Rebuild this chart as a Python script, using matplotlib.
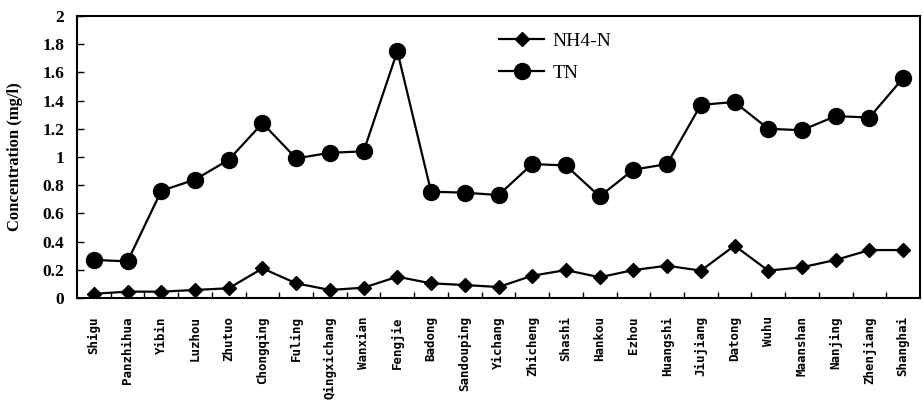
import matplotlib
matplotlib.use("Agg")
import matplotlib.pyplot as plt
import numpy as np

sites = ["Shigu", "Panzhihua", "Yibin", "Luzhou", "Zhutuo", "Chongqing", "Fuling",
         "Qingxichang", "Wanxian", "Fengjie", "Badong", "Sandouping", "Yichang",
         "Zhicheng", "Shashi", "Hankou", "Ezhou", "Huangshi", "Jiujiang", "Datong",
         "Wuhu", "Maanshan", "Nanjing", "Zhenjiang", "Shanghai"]

nh4_n = [0.03, 0.045, 0.045, 0.057, 0.069, 0.21, 0.104, 0.057, 0.073, 0.151,
         0.104, 0.092, 0.078, 0.158, 0.198, 0.147, 0.198, 0.229, 0.194, 0.371,
         0.194, 0.218, 0.27, 0.34, 0.34]
tn = [0.27, 0.26, 0.76, 0.84, 0.98, 1.24, 0.99, 1.03, 1.04, 1.75,
      0.754, 0.747, 0.73, 0.95, 0.94, 0.72, 0.91, 0.95, 1.37, 1.39,
      1.20, 1.19, 1.29, 1.28, 1.56]
yticks = [0, 0.2, 0.4, 0.6, 0.8, 1, 1.2, 1.4, 1.6, 1.8, 2]
ytick_labels = ["0", "0.2", "0.4", "0.6", "0.8", "1", "1.2", "1.4", "1.6", "1.8", "2"]

fig = plt.figure(figsize=(9.23, 4.13), dpi=100)
ax = fig.add_axes([77/923, (413-298)/413, (920-77)/923, (298-16)/413])

x = np.arange(len(sites))
ax.plot(x, nh4_n, color="black", lw=1.6, marker="D", markersize=7, label="NH4-N")
ax.plot(x, tn, color="black", lw=1.6, marker="o", markersize=11.5, label="TN")

ax.set_xlim(-0.5, len(sites) - 0.5)
ax.set_ylim(0, 2)
ax.set_yticks(yticks)
ax.set_yticklabels(ytick_labels, fontfamily="Liberation Serif", fontweight="bold", fontsize=12.5)
ax.set_xticks(x)
ax.set_xticklabels(sites, rotation=90, fontfamily="DejaVu Sans Mono", fontweight="bold", fontsize=9)
ax.set_xticks(np.arange(0.5, len(sites) - 1, 1), minor=True)
ax.tick_params(axis="x", which="major", length=0, pad=13)
ax.tick_params(axis="x", which="minor", direction="in", length=4, width=1)
ax.tick_params(axis="y", direction="in", length=5, width=1, pad=9)
for s in ax.spines.values():
    s.set_linewidth(1.5)

ax.set_ylabel("Concentration (mg/l)", fontfamily="Liberation Serif", fontweight="bold", fontsize=12)
ax.yaxis.set_label_coords(-0.064, 0.5)

leg = ax.legend(loc="upper left", bbox_to_anchor=(0.48, 1.005), frameon=False,
                prop={"family": "Liberation Serif", "size": 14},
                handlelength=2.3, labelspacing=0.75, handletextpad=0.45)

fig.savefig("out.png", dpi=100)
